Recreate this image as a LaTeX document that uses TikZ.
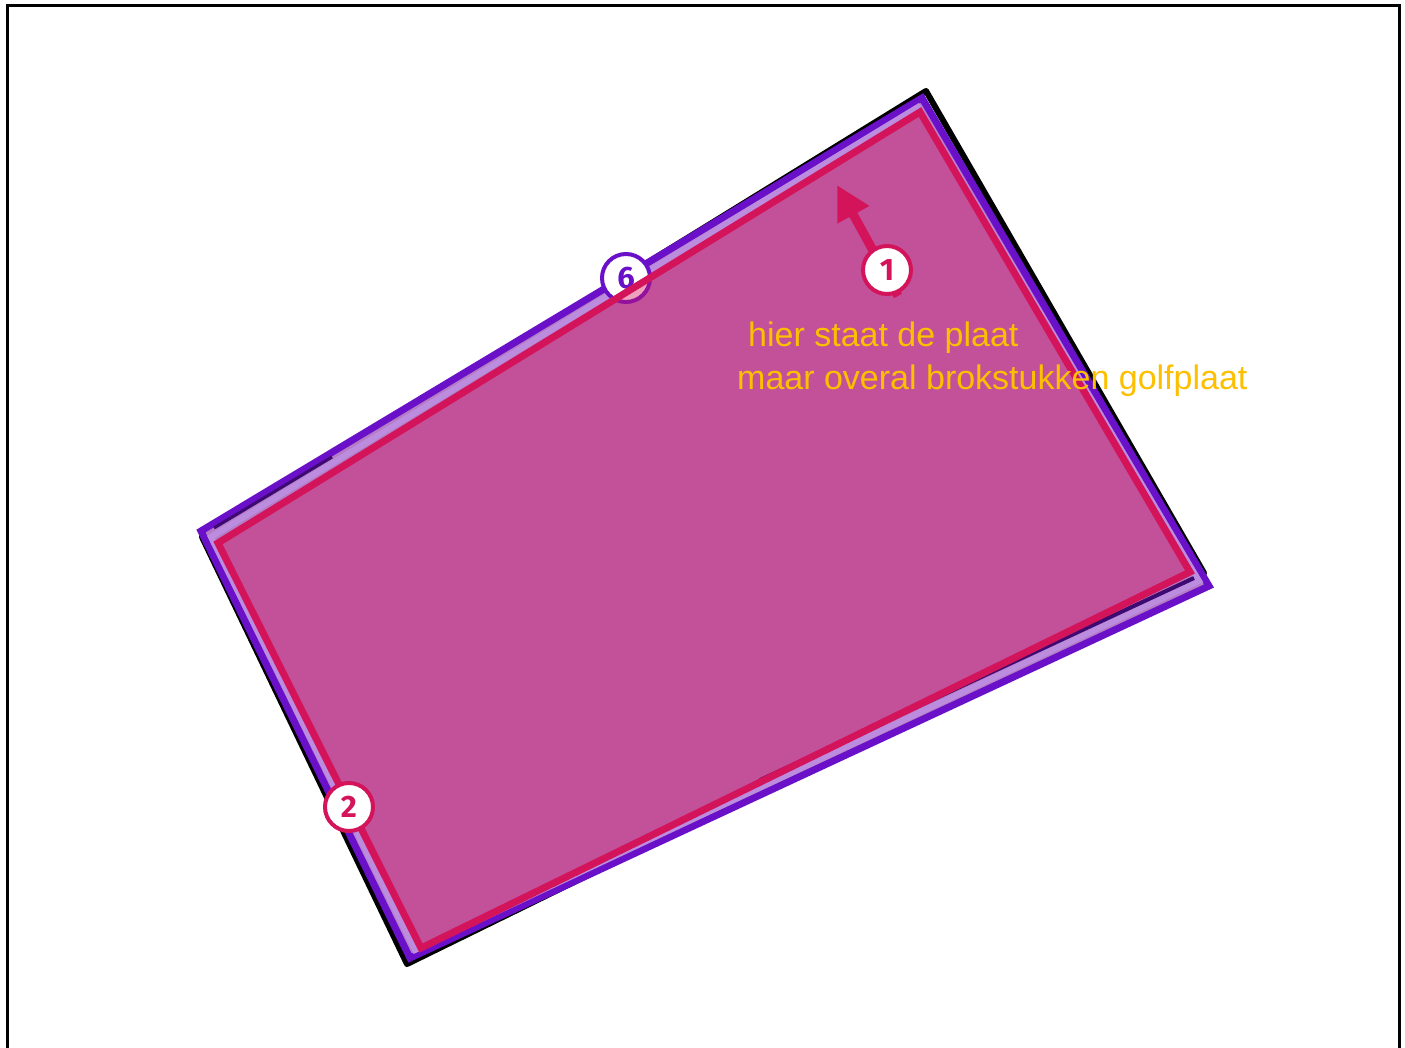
\documentclass[tikz,border=0pt]{standalone}
\usepackage{fontspec}
\setmainfont{Liberation Sans}
\newfontfamily\badgefont{Fira Sans}
\usetikzlibrary{arrows.meta}
\definecolor{plotpurple}{RGB}{106,16,200}
\definecolor{plotlav}{RGB}{182,123,197}
\definecolor{plotlavline}{RGB}{188,140,222}
\definecolor{plotdark}{RGB}{60,10,112}
\definecolor{plotred}{RGB}{212,20,90}
\definecolor{notegold}{RGB}{252,192,0}

\begin{document}
\begin{tikzpicture}[x=1pt, y=-1pt,
    badge/.style={circle, fill=white, line width=4pt, minimum size=48pt, inner sep=0pt,
      font=\badgefont\bfseries\fontsize{31}{31}\selectfont},
    note/.style={anchor=base west, inner sep=0pt, text=notegold, font=\fontsize{34}{34}\selectfont}]
  \useasboundingbox (0,0) rectangle (1405,1048);
  \fill[white] (0,0) rectangle (1405,1048);
  % frame
  \draw[line width=3pt] (7,1048) -- (7,6) -- (1399,6) -- (1399,1048);
  % old outline (black)
  \draw[line width=6pt, line join=round] (926,91) -- (1204,573) -- (407,964) -- (202,537) -- cycle;
  % purple plot
  \fill[plotlav] (922,98) -- (1209,586) -- (410,958) -- (201,531) -- cycle;
  \draw[plotpurple, line width=7pt] (922,98) -- (1209,586) -- (410,958) -- (201,531) -- cycle;
  \draw[plotlavline, line width=6pt] (918,107) -- (1199,581) -- (415,950) -- (211,537) -- cycle;
  \draw[plotdark, line width=4pt] (1194,578) -- (760,780);
  \draw[plotdark, line width=3pt] (214,528) -- (332,457);
  % badge 6
  \node[badge, draw=plotpurple, text=plotpurple] (six) at (626,278) {6};
  % red plot
  \fill[plotred, opacity=0.4] (920,112) -- (1190,572) -- (421,948) -- (218,543) -- cycle;
  \draw[plotred, line width=7pt] (920,112) -- (1190,572) -- (421,948) -- (218,543) -- cycle;
  % arrow with badge 1
  \coordinate (tail) at (898,296);
  \coordinate (tip) at (837,185);
  \draw[plotred, line width=9pt, -{Triangle[length=34pt,width=34pt]}] (tail) -- (tip);
  \node[badge, draw=plotred, text=plotred] (one) at (887,270) {1};
  % badge 2
  \node[badge, draw=plotred, text=plotred] (two) at (349,807) {2};
  % note
  \node[note] (line1) at (748,347) {hier staat de plaat};
  \node[note] (line2) at (737,389) {maar overal brokstukken golfplaat};
\end{tikzpicture}
\end{document}
